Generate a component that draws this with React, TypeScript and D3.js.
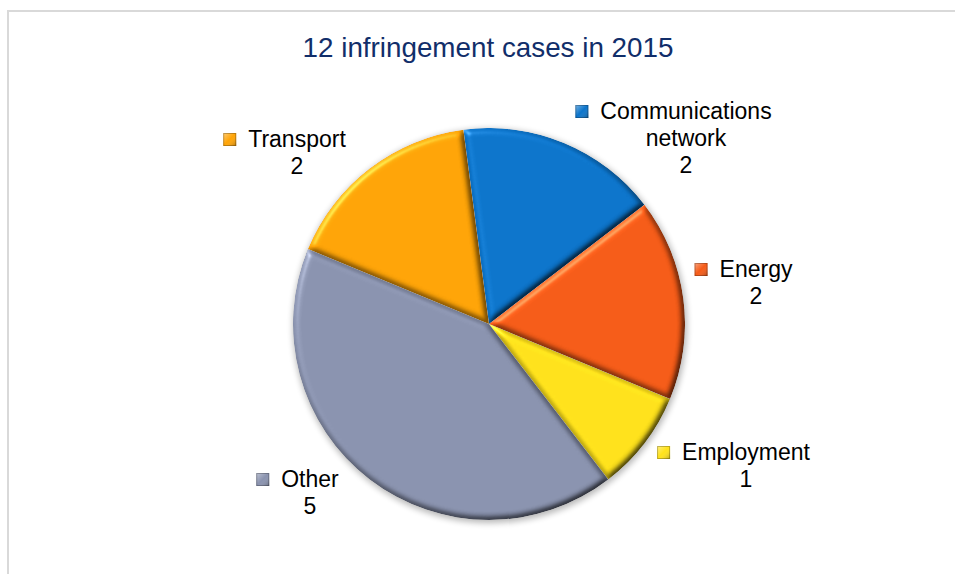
import React from "react";
import * as d3 from "d3";

const TITLE = "12 infringement cases in 2015";
const categories = ["Communications network", "Energy", "Employment", "Other", "Transport"];
const values = [2, 2, 1, 5, 2];
const colors = ["#0B74CB", "#F65B17", "#FFE21A", "#8A93AF", "#FFA406"];
// label layout: text centre x, first baseline y, line breaks
const labelLayout = [
  { x: 686, y: 119, lines: ["Communications", "network"] },
  { x: 756, y: 277, lines: ["Energy"] },
  { x: 746, y: 460, lines: ["Employment"] },
  { x: 310, y: 487, lines: ["Other"] },
  { x: 297, y: 147, lines: ["Transport"] },
];

const W = 955;
const H = 574;
const CX = 489;
const CY = 324;
const R = 196;
const FONT = "'Liberation Sans', Arial, sans-serif";
const LABEL_SIZE = 23;
const LINE_H = 27;

function measure(text: string, size: number): number {
  if (typeof document === "undefined") return text.length * size * 0.55;
  const c = document.createElement("canvas");
  const ctx = c.getContext("2d");
  if (!ctx) return text.length * size * 0.55;
  ctx.font = `${size}px 'Liberation Sans', Arial, sans-serif`;
  return ctx.measureText(text).width;
}

export default function App() {
  const pie = d3
    .pie<number>()
    .sort(null)
    .value((d) => d)
    .startAngle(-Math.PI / 24)
    .endAngle(2 * Math.PI - Math.PI / 24);
  const arcs = pie(values);
  const arc = d3.arc<d3.PieArcDatum<number>>().innerRadius(0).outerRadius(R);

  return (
    <svg
      width={W}
      height={H}
      style={{ position: "absolute", left: 0, top: 0, background: "#fff" }}
    >
      <defs>
        <filter id="bevel" x="-10%" y="-10%" width="120%" height="120%" colorInterpolationFilters="sRGB">
          <feGaussianBlur in="SourceAlpha" stdDeviation="3" result="blur" />
          <feDiffuseLighting in="blur" surfaceScale="4" diffuseConstant="1.12" lightingColor="#ffffff" result="diff">
            <feDistantLight azimuth="225" elevation="62" />
          </feDiffuseLighting>
          <feComposite in="diff" in2="SourceGraphic" operator="arithmetic" k1="1" k2="0" k3="0" k4="0" result="shaded" />
          <feSpecularLighting in="blur" surfaceScale="4" specularConstant="0.8" specularExponent="24" lightingColor="#ffffff" result="spec">
            <feDistantLight azimuth="225" elevation="32" />
          </feSpecularLighting>
          <feComposite in="shaded" in2="spec" operator="arithmetic" k1="0" k2="1" k3="0.35" k4="0" result="lit" />
          <feComposite in="lit" in2="SourceAlpha" operator="in" />
        </filter>
        <filter id="shadow" x="-20%" y="-20%" width="140%" height="140%">
          <feGaussianBlur stdDeviation="3" />
        </filter>
        <linearGradient id="mk" x1="0" y1="0" x2="1" y2="1">
          <stop offset="0" stopColor="#fff" stopOpacity="0.45" />
          <stop offset="0.5" stopColor="#fff" stopOpacity="0" />
          <stop offset="1" stopColor="#000" stopOpacity="0.3" />
        </linearGradient>
      </defs>

      <rect x={8} y={11} width={W + 10} height={H + 20} fill="#fff" stroke="#d9d9d9" strokeWidth={2} />

      <text
        x={488}
        y={57}
        textAnchor="middle"
        fontFamily={FONT}
        fontSize={27.8}
        fill="#112E6A"
      >
        {TITLE}
      </text>

      <circle cx={CX + 1} cy={CY + 2} r={R + 1} fill="#000" opacity={0.28} filter="url(#shadow)" />

      <g transform={`translate(${CX},${CY})`}>
        {arcs.map((a, i) => (
          <path key={categories[i]} d={arc(a) || ""} fill={colors[i]} filter="url(#bevel)" />
        ))}
      </g>

      {arcs.map((a, i) => {
        const lay = labelLayout[i];
        const first = lay.lines[0];
        const w = measure(first, LABEL_SIZE);
        const mx = lay.x - w / 2 - 12 - 13;
        return (
          <g key={"lab" + i} fontFamily={FONT} fontSize={LABEL_SIZE} fill="#000">
            <rect x={mx} y={lay.y - 14} width={13} height={13} fill={colors[i]} />
            <rect x={mx} y={lay.y - 14} width={13} height={13} fill="url(#mk)" />
            <rect x={mx + 0.5} y={lay.y - 13.5} width={12} height={12} fill="none" stroke="#000" strokeOpacity={0.25} strokeWidth={1} />
            {lay.lines.map((ln, j) => (
              <text key={j} x={lay.x} y={lay.y + j * LINE_H} textAnchor="middle">
                {ln}
              </text>
            ))}
            <text x={lay.x} y={lay.y + lay.lines.length * LINE_H} textAnchor="middle">
              {String(a.data)}
            </text>
          </g>
        );
      })}
    </svg>
  );
}
